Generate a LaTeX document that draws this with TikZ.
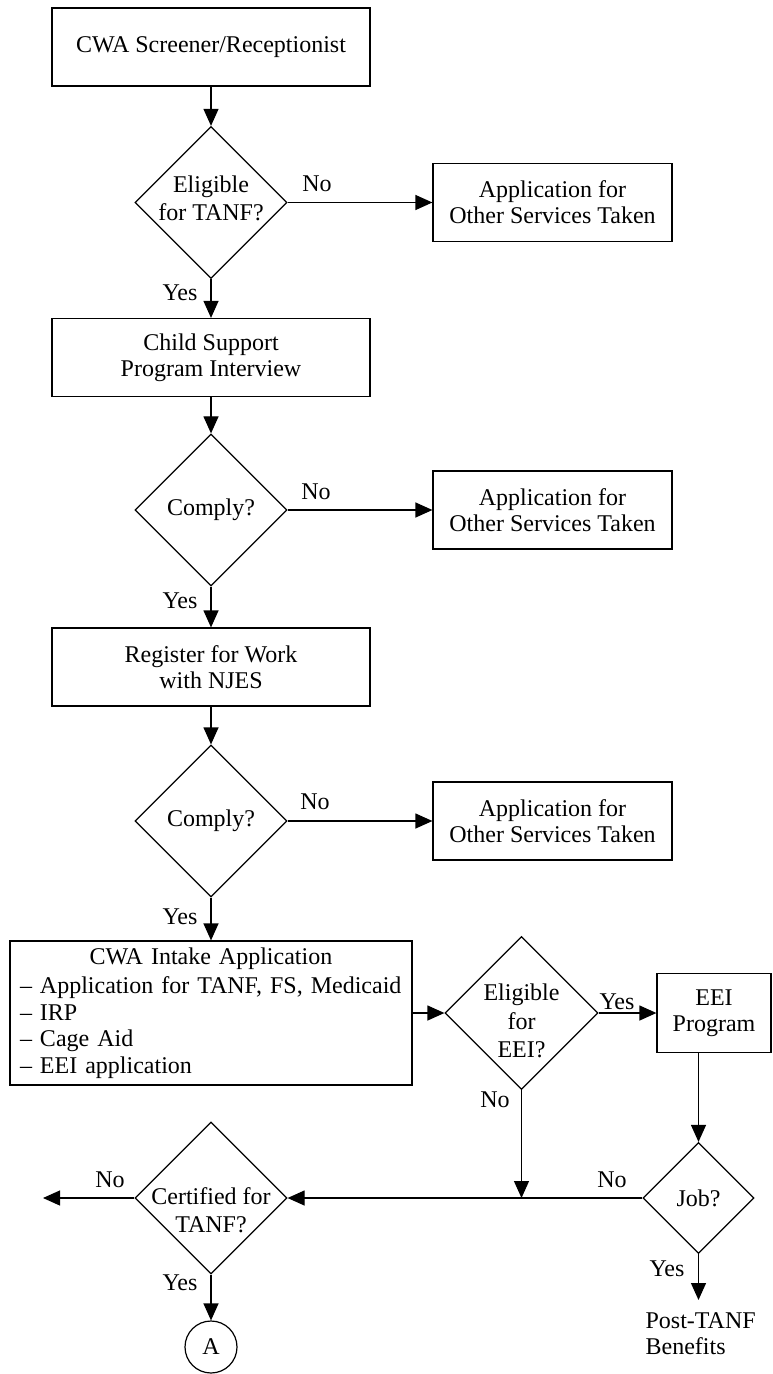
\documentclass[tikz,border=0pt]{standalone}
\usepackage{fontspec}
\setmainfont{Liberation Serif}
\usetikzlibrary{shapes.geometric,arrows.meta}
\begin{document}
\begin{tikzpicture}[x=0.5pt,y=-0.5pt,line width=0.6pt,
  >={Triangle[length=8.5pt,width=7.5pt]},
  every node/.style={font=\fontsize{12}{13}\selectfont},
  box/.style={draw,rectangle,align=center,inner sep=0pt,minimum width=#1,minimum height=39pt},
  box/.default=159pt,
  decision/.style={draw,diamond,align=center,inner sep=-4pt,minimum width=#1,minimum height=#1,
    font=\fontsize{12}{14.2}\selectfont},
  decision/.default=76pt,
  dtext/.style={align=center,inner sep=0pt,font=\fontsize{12}{14.2}\selectfont},
  lbl/.style={inner sep=0pt}]
\useasboundingbox (0,0) rectangle (772,1374);

\node[box] (screen) at (211,47) {CWA Screener/Receptionist};
\node[decision,label={[dtext,yshift=2pt]center:Eligible\\for TANF?}] (elig) at (211,202.5) {};
\node[box=119.5pt] (other1) at (552.5,202.5) {Application for\\Other Services Taken};
\node[box] (child) at (211,357.5) {Child Support\\Program Interview};
\node[decision] (comply1) at (211,510) {Comply?};
\node[box=119.5pt] (other2) at (552.5,510) {Application for\\Other Services Taken};
\node[box] (njes) at (211,667) {Register for Work\\with NJES};
\node[decision] (comply2) at (211,821) {Comply?};
\node[box=119.5pt] (other3) at (552.5,821) {Application for\\Other Services Taken};
\node[draw,inner xsep=5pt,inner ysep=0pt,text width=191pt,minimum height=72pt,align=left,
  font=\fontsize{12}{13.2}\selectfont] (intake) at (211,1013)
  {\makebox[\linewidth]{CWA Intake Application}\\[1.5pt]
   -- Application for TANF, FS, Medicaid\\
   -- IRP\\
   -- Cage Aid\\
   -- EEI application};
\node[decision=76.5pt,label={[dtext,yshift=-4pt]center:Eligible\\for\\EEI?}] (eligeei) at (521.5,1013) {};
\node[box=57pt,minimum height=39.5pt] (eei) at (714,1013) {EEI\\Program};
\node[decision=55.5pt] (job) at (698.5,1198) {Job?};
\node[decision,label={[dtext,yshift=-6pt]center:Certified for\\TANF?}] (cert) at (211,1198) {};
\node[draw,circle,minimum size=26pt,inner sep=0pt] (conA) at (211,1347) {A};
\coordinate (join) at (eligeei.south |- job.west);
\coordinate (exit) at (43,1198);
\coordinate (post) at (698.5,1300);

\path[draw,->] (screen) -- (elig);
\path[draw,->] (elig.east) -- (other1.west);
\path[draw,->] (elig) -- (child);
\path[draw,->] (child) -- (comply1);
\path[draw,->] (comply1.east) -- (other2.west);
\path[draw,->] (comply1) -- (njes);
\path[draw,->] (njes) -- (comply2);
\path[draw,->] (comply2.east) -- (other3.west);
\path[draw,->] (comply2) -- (intake);
\path[draw,->] (intake.east) -- (eligeei.west);
\path[draw,->] (eligeei.east) -- (eei.west);
\path[draw,->] (eei.south -| job.north) -- (job.north);
\path[draw,->] (eligeei.south) -- (join);
\path[draw,->] (job.west) -- (cert.east);
\path[draw,->] (cert.west) -- (exit);
\path[draw,->] (cert.south) -- (conA.north);
\path[draw,->] (job.south) -- (post);

\node[lbl] (no1) at (317,184) {No};
\node[lbl] (yes1) at (180,293) {Yes};
\node[lbl] (no2) at (316,492) {No};
\node[lbl] (yes2) at (180,601) {Yes};
\node[lbl] (no3) at (315,802) {No};
\node[lbl] (yes3) at (180,917) {Yes};
\node[lbl] (yes4) at (617,1002) {Yes};
\node[lbl] (no4) at (495,1100) {No};
\node[lbl] (no5) at (612,1180) {No};
\node[lbl] (no6) at (110,1180) {No};
\node[lbl] (yes5) at (180,1283) {Yes};
\node[lbl] (yes6) at (667,1269) {Yes};
\node[lbl,anchor=west,align=left] (benefit) at (645,1333.5) {Post-TANF\\Benefits};
\end{tikzpicture}
\end{document}
